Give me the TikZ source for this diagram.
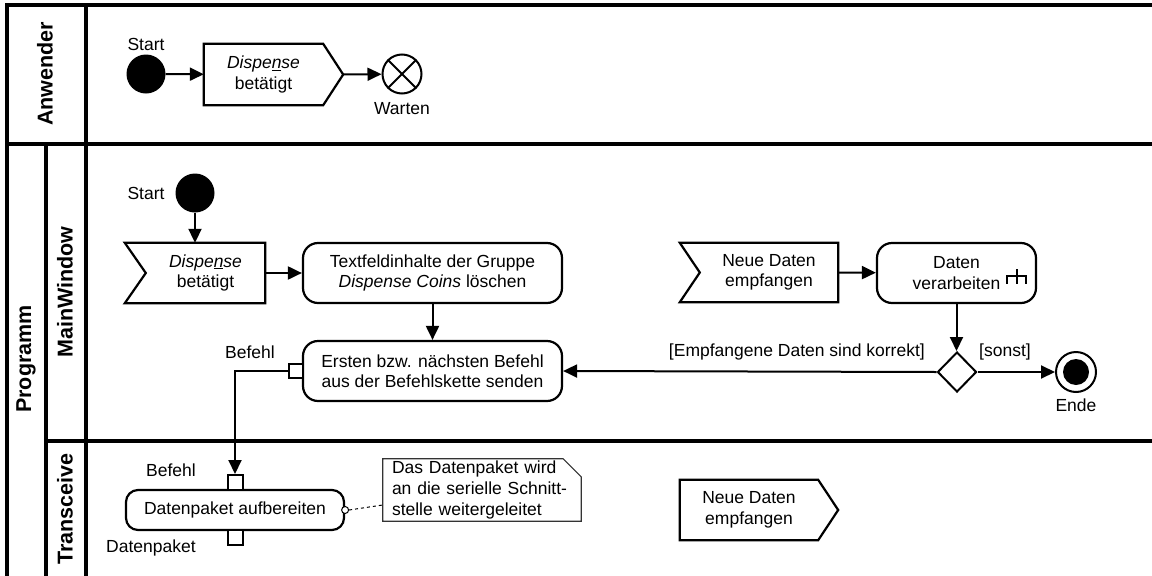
\documentclass[tikz,border=0pt]{standalone}
\usepackage{fontspec}
\setmainfont{Liberation Sans}
\usetikzlibrary{arrows.meta,shapes.geometric,calc}
\begin{document}
\begin{tikzpicture}[x=1pt,y=-1pt,
  every node/.style={font=\fontsize{17.5}{20.5}\selectfont, inner sep=0pt},
  lane/.style={line width=3.3pt, line join=miter},
  lanetitle/.style={font=\fontsize{21.5}{24}\selectfont\bfseries, rotate=90},
  shp/.style={line width=2.2pt, line join=miter},
  act/.style={draw, line width=2.2pt, rounded corners=15pt, align=center},
  body/.style={align=center},
  conn/.style={line width=2pt, -{Triangle[length=14pt,width=13pt]}},
  pinbox/.style={draw, line width=2pt, minimum size=14pt, fill=white},
  startdot/.style={circle, fill=black, minimum size=39pt},
  thin/.style={line width=1pt},
]
\useasboundingbox (0,0) rectangle (1152,576);

% ---------- swimlanes ----------
\draw[lane] (1152,5) -- (7,5) -- (7,576);
\draw[lane] (7,144) -- (1152,144);
\draw[lane] (86,5) -- (86,576);
\draw[lane] (46,144) -- (46,576);
\draw[lane] (46,441) -- (1152,441);
\node[lanetitle] (tA) at (45,74) {Anwender};
\node[lanetitle] (tP) at (26,359) {Programm};
\node[lanetitle] (tM) at (65,292) {MainWindow};
\node[lanetitle] (tT) at (65,509) {Transceive};

% ---------- Anwender ----------
\node[startdot] (s1) at (146,74) {};
\node (s1l) at (146,44) {Start};
\node[body, minimum width=119pt, minimum height=61pt] (sig1) at (263.5,74.5) {\textit{Dispe\underline{n}se}\\betätigt};
\draw[shp] (sig1.north west) -- (sig1.north east) -- ([xshift=20pt]sig1.east) -- (sig1.south east) -- (sig1.south west) -- cycle;
\coordinate (sig1tip) at ([xshift=20pt]sig1.east);
\node[circle, draw, line width=2pt, minimum size=39pt] (w1) at (402,74) {};
\draw[line width=2pt] (w1.north west) -- (w1.south east) (w1.north east) -- (w1.south west);
\node (w1l) at (402,109) {Warten};
\draw[conn] (s1) -- (sig1);
\draw[conn] (sig1tip) -- (w1);

% ---------- MainWindow ----------
\node[startdot] (s2) at (195,193) {};
\node (s2l) at (146,193) {Start};
\node[body, minimum width=119pt, minimum height=60pt] (acc1) at (205.5,273) {\textit{Dispe\underline{n}se}\\betätigt};
\draw[shp] ([xshift=-21pt]acc1.north west) -- (acc1.north east) -- (acc1.south east) -- ([xshift=-21pt]acc1.south west) -- (acc1.west) -- cycle;
\draw[conn] (s2) -- (s2 |- acc1.north);

\node[act, minimum width=259pt, minimum height=60pt] (a1) at (432.5,273) {Textfeldinhalte der Gruppe\\\textit{Dispense Coins} löschen};
\draw[conn] (acc1.east) -- (a1);
\node[act, minimum width=259pt, minimum height=60pt] (a2) at (432.5,371) {Ersten bzw. nächsten Befehl\\aus der Befehlskette senden};
\draw[conn] (a1) -- (a2);
\node[pinbox] (p1) at (296,371) {};
\node (p1l) at (250,352) {Befehl};

\node[body, minimum width=138pt, minimum height=59pt] (acc2) at (769,272.5) {Neue Daten\\empfangen};
\draw[shp] ([xshift=-20pt]acc2.north west) -- (acc2.north east) -- (acc2.south east) -- ([xshift=-20pt]acc2.south west) -- (acc2.west) -- cycle;
\node[act, minimum width=159pt, minimum height=60pt] (a3) at (956.5,273) {Daten\\verarbeiten};
\draw[line width=2pt] (1016.5,269) -- (1016.5,284) (1007,276) -- (1026,276) (1007,275) -- (1007,284) (1026,275) -- (1026,284);
\draw[conn] (acc2.east) -- (a3);

\node[diamond, draw, line width=2pt, minimum width=39pt, minimum height=40pt] (d) at (957,372) {};
\draw[conn] (a3.south) -- (a3.south |- d.north);
\node[circle, draw, line width=2pt, minimum size=40pt] (e) at (1076,372) {};
\node[circle, fill=black, minimum size=26pt] (ei) at (e) {};
\node (el) at (1076,405) {Ende};
\draw[conn] (d.east) -- (e);
\node (sl) at (1005,352) {[sonst]};
\draw[conn] (d.west) -- (a2.east);
\node[anchor=east] (gl) at (925,352) {[Empfangene Daten sind korrekt]};

% ---------- Transceive ----------
\node[act, rounded corners=12pt, minimum width=218pt, minimum height=40pt] (a4) at (235,510) {Datenpaket aufbereiten};
\node[pinbox, minimum size=15pt] (p2) at (235,482.5) {};
\node[pinbox, minimum size=15pt] (p3) at (235,537.5) {};
\node (p2l) at (171,470) {Befehl};
\node (p3l) at (151,548) {Datenpaket};
\coordinate (bend) at (235,371);
\draw[conn] (p1.west) -- (bend) -- (p2.north);

\node[minimum width=198pt, minimum height=62pt, text width=180pt, align=left, font=\fontsize{17.5}{21}\selectfont] (n) at (482,490) {Das Datenpaket wird\\an die serielle Schnitt-\\stelle weitergeleitet};
\draw[line width=1.2pt, draw=black!80] (n.north west) -- ([xshift=-18pt]n.north east) -- ([yshift=-18pt]n.north east) -- (n.south east) -- (n.south west) -- cycle;
\node[circle, draw, thin, minimum size=7pt, fill=white] (oc) at (a4.east) {};
\draw[dashed, thin] (oc.east) -- ($(n.south west)!0.26!(n.north west)$);

\node[body, minimum width=138pt, minimum height=60pt] (sig2) at (749,510) {Neue Daten\\empfangen};
\draw[shp] (sig2.north west) -- (sig2.north east) -- ([xshift=20pt]sig2.east) -- (sig2.south east) -- (sig2.south west) -- cycle;
\end{tikzpicture}
\end{document}
